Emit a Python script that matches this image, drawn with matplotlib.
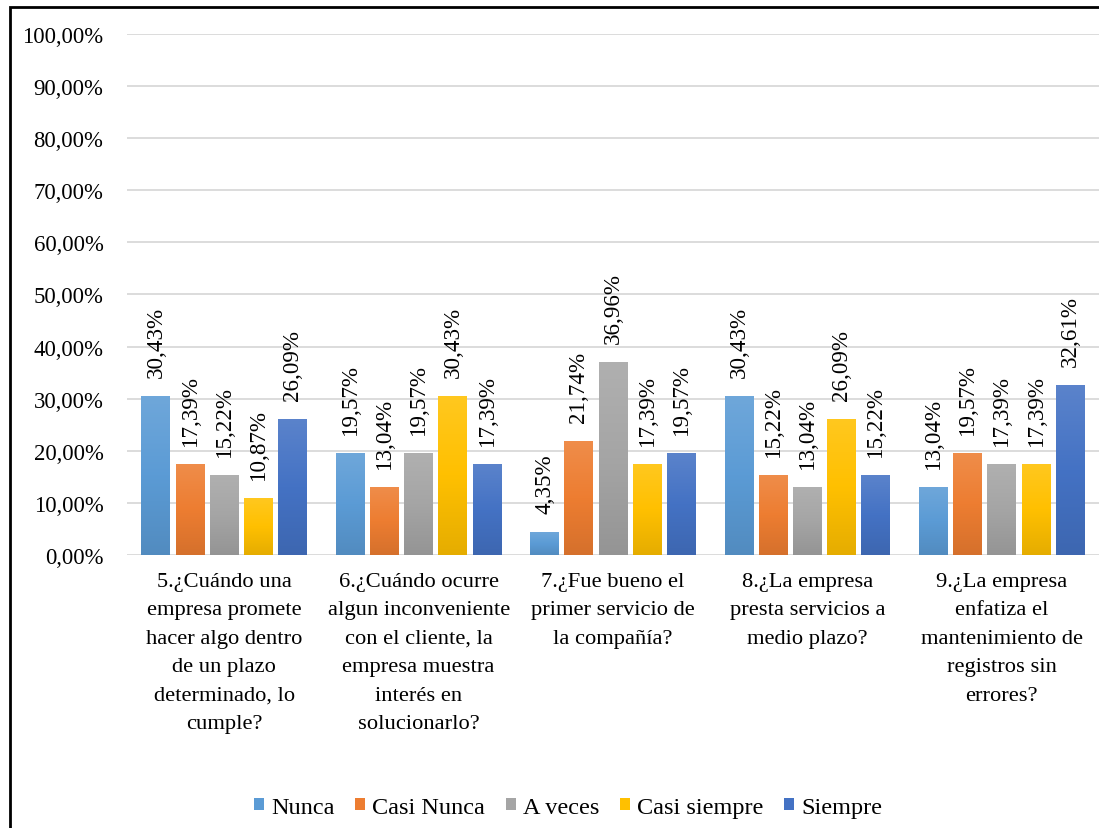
import matplotlib.pyplot as plt
import matplotlib.colors as mcolors
from matplotlib.patches import Patch, Rectangle
import numpy as np

plt.rcParams['font.family'] = ['Liberation Serif', 'DejaVu Serif']

preguntas = ['5.¿Cuándo una\nempresa promete\nhacer algo dentro\nde un plazo\ndeterminado, lo\ncumple?',
             '6.¿Cuándo ocurre\nalgun inconveniente\ncon el cliente, la\nempresa muestra\ninterés en\nsolucionarlo?',
             '7.¿Fue bueno el\nprimer servicio de\nla compañía?',
             '8.¿La empresa\npresta servicios a\nmedio plazo?',
             '9.¿La empresa\nenfatiza el\nmantenimiento de\nregistros sin\nerrores?']
series = ['Nunca', 'Casi Nunca', 'A veces', 'Casi siempre', 'Siempre']
nunca = [30.43, 19.57, 4.35, 30.43, 13.04]
casi_nunca = [17.39, 13.04, 21.74, 15.22, 19.57]
a_veces = [15.22, 19.57, 36.96, 13.04, 17.39]
casi_siempre = [10.87, 30.43, 17.39, 26.09, 17.39]
siempre = [26.09, 17.39, 19.57, 15.22, 32.61]
valores = [nunca, casi_nunca, a_veces, casi_siempre, siempre]
colores = ['#5B9BD5', '#ED7D31', '#A5A5A5', '#FFC000', '#4472C4']


def mezcla(c, otro, t):
    c = np.array(mcolors.to_rgb(c))
    return tuple(c + (np.array(otro) - c) * t)


fig = plt.figure(figsize=(10.99, 8.29), dpi=100)
ax = fig.add_axes([0.1156, 0.3293, 0.8844, 0.6285])

x = np.arange(len(preguntas))
paso = 0.176
ancho = 0.148
for i, (nombre, vals, col) in enumerate(zip(series, valores, colores)):
    pos = x + (i - 2) * paso
    arriba = mezcla(col, (1, 1, 1), 0.12)
    abajo = mezcla(col, (0, 0, 0), 0.1)
    cmap = mcolors.LinearSegmentedColormap.from_list('g' + str(i), [abajo, col, arriba])
    grad = np.linspace(0, 1, 100).reshape(-1, 1)
    for xp, v in zip(pos, vals):
        ax.imshow(grad, cmap=cmap, origin='lower', aspect='auto',
                  extent=(xp - ancho / 2, xp + ancho / 2, 0, v), zorder=2)
        ax.annotate(f'{v:.2f}%'.replace('.', ','), (xp, v), xytext=(0, 14),
                    textcoords='offset points', rotation=90, ha='center',
                    va='bottom', fontsize=16.6)

ax.set_xlim(-0.5, 4.5)
ax.set_ylim(0, 100)
ax.set_yticks(np.arange(0, 101, 10))
ax.set_yticklabels([f'{t},00%' for t in range(0, 101, 10)], fontsize=16.4)
ax.set_xticks(x)
ax.set_xticklabels(preguntas, fontsize=16.2, linespacing=1.68, va='top')
ax.tick_params(length=0)
ax.tick_params(axis='y', pad=17)
ax.tick_params(axis='x', pad=12)
ax.grid(axis='y', color='#D9D9D9', linewidth=1.3, zorder=0)
ax.set_axisbelow(True)
for s in ax.spines.values():
    s.set_visible(False)

handles = [Patch(facecolor=c, label=n) for n, c in zip(series, colores)]
fig.legend(handles=handles, loc='center', bbox_to_anchor=(0.517, 0.025), ncol=5,
           frameon=False, fontsize=17.5, handlelength=0.4, handleheight=0.4,
           handletextpad=0.3, columnspacing=0.85)

fig.add_artist(Rectangle((10 / 1099, -0.1), 1.2, 1.1 - 8 / 829, transform=fig.transFigure,
                         fill=False, edgecolor='black', linewidth=2))

plt.savefig('out.png', dpi=100)
